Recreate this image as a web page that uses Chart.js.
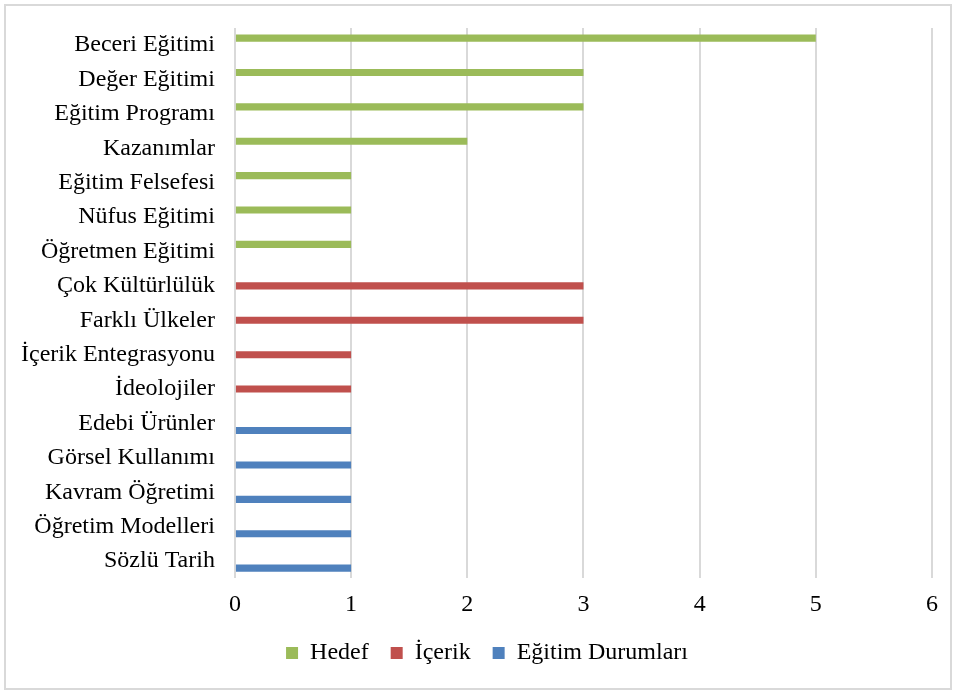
<!DOCTYPE html>
<html>
<head>
<meta charset="utf-8">
<script src="https://cdn.jsdelivr.net/npm/chart.js@4/dist/chart.umd.min.js"></script>
<style>
  body { margin: 0; background: #fff; }
  #kutu { position: absolute; left: 4px; top: 4px; width: 944px; height: 682px; border: 2px solid #d9d9d9; }
</style>
</head>
<body>
<div id="kutu"><canvas id="grafik" width="944" height="682"></canvas></div>
<script>
// kategoriler (yukaridan asagiya)
var kategoriler = ['Beceri Eğitimi', 'Değer Eğitimi', 'Eğitim Programı', 'Kazanımlar', 'Eğitim Felsefesi',
  'Nüfus Eğitimi', 'Öğretmen Eğitimi', 'Çok Kültürlülük', 'Farklı Ülkeler', 'İçerik Entegrasyonu',
  'İdeolojiler', 'Edebi Ürünler', 'Görsel Kullanımı', 'Kavram Öğretimi', 'Öğretim Modelleri', 'Sözlü Tarih'];
var hedef    = [5, 3, 3, 2, 1, 1, 1, null, null, null, null, null, null, null, null, null];
var icerik   = [null, null, null, null, null, null, null, 3, 3, 1, 1, null, null, null, null, null];
var durumlar = [null, null, null, null, null, null, null, null, null, null, null, 1, 1, 1, 1, 1];
var xTikler = [0, 1, 2, 3, 4, 5, 6];

var yazi = { family: '"Liberation Serif", "Times New Roman", serif', size: 24 };

// legend'i biraz saga kaydir
var legendKaydir = {
  id: 'legendKaydir',
  afterLayout: function (chart) {
    if (chart.legend) { chart.legend.left += 20; chart.legend.right += 20; }
  }
};

var ctx = document.getElementById('grafik');
var chart = new Chart(ctx, {
  type: 'bar',
  data: {
    labels: kategoriler,
    datasets: [
      { label: 'Hedef', data: hedef, backgroundColor: '#9bbb59' },
      { label: 'İçerik', data: icerik, backgroundColor: '#c0504d' },
      { label: 'Eğitim Durumları', data: durumlar, backgroundColor: '#4f81bd' }
    ]
  },
  plugins: [legendKaydir],
  options: {
    indexAxis: 'y',
    responsive: false,
    animation: false,
    categoryPercentage: 0.62,
    barPercentage: 1.0,
    layout: { padding: { top: 22, right: 17, left: -5, bottom: 13 } },
    scales: {
      x: {
        min: 0, max: 6,
        afterBuildTicks: function (ax) { ax.ticks = xTikler.map(function (v) { return { value: v }; }); },
        afterFit: function (s) { s.height -= 12; },
        grid: { color: '#d9d9d9', lineWidth: 2, drawTicks: false },
        border: { display: false },
        ticks: { color: '#000', font: yazi, padding: 12 }
      },
      y: {
        grid: { display: false, drawTicks: false, tickLength: 0 },
        border: { display: false },
        ticks: { color: '#000', font: yazi, padding: 20, autoSkip: false },
        afterFit: function (s) { s.paddingTop = 0; s.paddingBottom = 0; }
      }
    },
    plugins: {
      legend: {
        position: 'bottom',
        labels: { color: '#000', font: yazi, boxWidth: 12, boxHeight: 12, padding: 22 }
      },
      tooltip: { enabled: false }
    }
  }
});
</script>
</body>
</html>
